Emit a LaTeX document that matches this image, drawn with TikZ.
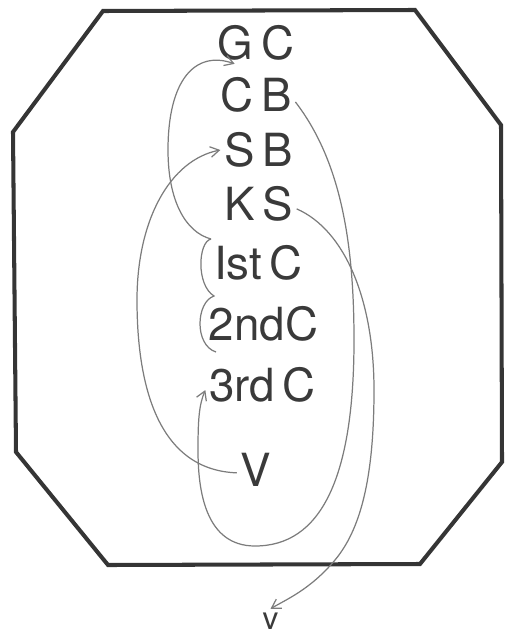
\documentclass[tikz,border=0pt]{standalone}
\usepackage{fontspec}
\setmainfont{TeX Gyre Heros}[WordSpace=0.6]
\usepackage{xcolor}
\definecolor{framegray}{HTML}{353535}
\definecolor{wiregray}{HTML}{7C7C7C}
\definecolor{labelgray}{HTML}{3A3A3A}
\usepackage{tikz}
\usetikzlibrary{arrows.meta}

\begin{document}
\begin{tikzpicture}[x=0.02cm, y=-0.02cm,
    lbl/.style={text=labelgray, font=\fontsize{26}{30}\selectfont, inner sep=2pt},
    wire/.style={wiregray, line width=0.7pt},
    tip/.style={wire, -{Straight Barb[length=5pt,width=6pt]}}]
    \useasboundingbox (0,0) rectangle (504,635);
    % frame
    \draw[framegray, line width=2.3pt, line join=miter]
      (103,11) -- (415,10) -- (501,125) -- (502,462) -- (420,564)
      -- (108,565) -- (16,452) -- (13,132) -- cycle;
    % labels
    \node[lbl] (gc) at (256,42.5) {G C};
    \node[lbl] (cb) at (256,95) {C B};
    \node[lbl] (sb) at (258.5,150) {S B};
    \node[lbl] (ks) at (258.5,203.5) {K S};
    \node[lbl] (first) at (258.5,262.5) {Ist C};
    \node[lbl] (second) at (263.5,323.5) {2ndC};
    \node[lbl] (third) at (262.5,385) {3rd C};
    \node[lbl] (v) at (256,469.5) {V};
    \node[lbl, font=\fontsize{18}{22}\selectfont] (out) at (270.5,621) {v};
    % brace
    \coordinate (bracetop) at (211,239);
    \draw[wire] (bracetop) .. controls (198,242) and (196,285) .. (214,296)
      .. controls (196,302) and (194,345) .. (216,352);
    % loops
    \draw[tip] (bracetop) .. controls (185,232) and (168,200) .. (168,150)
      .. controls (168,80) and (195,50) .. (gc.-135);
    \draw[tip] (cb.-10) .. controls (340,160) and (354,240) .. (354,340)
      .. controls (354,480) and (320,546) .. (255,546)
      .. controls (205,546) and (198,490) .. (198,450)
      .. controls (198,420) and (199,405) .. (third.-175);
    \draw[tip] (v.-170) .. controls (160,470) and (137,390) .. (137,300)
      .. controls (137,220) and (170,160) .. (sb.west);
    \draw[tip] (ks.-8) .. controls (345,230) and (374,300) .. (374,390)
      .. controls (374,480) and (360,530) .. (335,560)
      .. controls (310,590) and (285,600) .. (out.north);
\end{tikzpicture}
\end{document}
